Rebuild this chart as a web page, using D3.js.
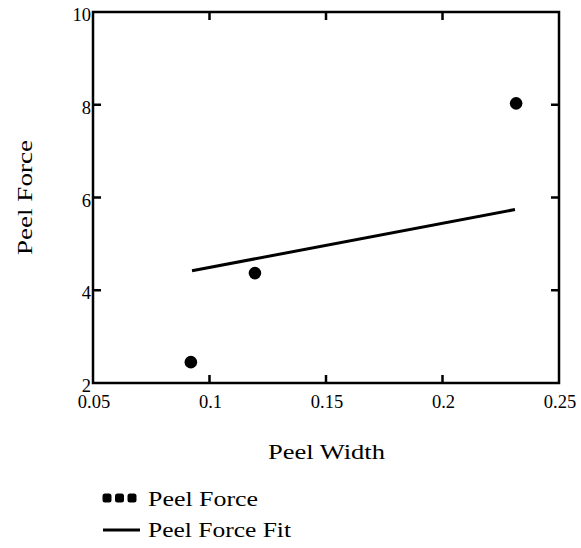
<!DOCTYPE html>
<html>
<head>
<meta charset="utf-8">
<script src="https://cdn.jsdelivr.net/npm/d3@7"></script>
<style>
  body { margin: 0; background: #fff; }
  .tick-label { font-family: "Liberation Serif", "Times New Roman", serif; font-size: 18.5px; fill: #000; }
  .title { font-family: "Liberation Serif", "Times New Roman", serif; font-size: 22px; fill: #000; }
</style>
</head>
<body>
<svg width="581" height="548"></svg>
<script>
// Data
const peelWidth = [0.092, 0.1195, 0.2316];
const peelForce = [2.45, 4.37, 8.03];
const fitWidth = [0.0925, 0.2311];
const fitForce = [4.42, 5.74];

const xTicks = [0.05, 0.1, 0.15, 0.2, 0.25];
const xTickLabels = ["0.05", "0.1", "0.15", "0.2", "0.25"];
const yTicks = [2, 4, 6, 8, 10];
const yTickLabels = ["2", "4", "6", "8", "10"];

const svg = d3.select("svg");
const plotLeft = 93, plotRight = 559, plotTop = 12, plotBottom = 383;

const x = d3.scaleLinear().domain([0.05, 0.25]).range([plotLeft, plotRight]);
const y = d3.scaleLinear().domain([2, 10]).range([plotBottom, plotTop]);

// inner ticks on all four sides
const tickLen = 8;
const g = svg.append("g").attr("stroke", "#000").attr("stroke-width", 2.5);
g.selectAll(".xb").data(xTicks.slice(1, -1)).join("line")
    .attr("x1", d => x(d)).attr("x2", d => x(d))
    .attr("y1", plotBottom).attr("y2", plotBottom - tickLen);
g.selectAll(".xt").data(xTicks.slice(1, -1)).join("line")
    .attr("x1", d => x(d)).attr("x2", d => x(d))
    .attr("y1", plotTop).attr("y2", plotTop + tickLen);
g.selectAll(".yl").data(yTicks.slice(1, -1)).join("line")
    .attr("y1", d => y(d)).attr("y2", d => y(d))
    .attr("x1", plotLeft).attr("x2", plotLeft + tickLen);
g.selectAll(".yr").data(yTicks.slice(1, -1)).join("line")
    .attr("y1", d => y(d)).attr("y2", d => y(d))
    .attr("x1", plotRight).attr("x2", plotRight - tickLen);

svg.append("rect")
    .attr("x", plotLeft).attr("y", plotTop)
    .attr("width", plotRight - plotLeft).attr("height", plotBottom - plotTop)
    .attr("fill", "none").attr("stroke", "#000").attr("stroke-width", 2.5);

// tick labels
svg.selectAll(".xlab").data(xTicks).join("text")
    .attr("class", "tick-label")
    .attr("x", d => x(d) + 1).attr("y", plotBottom + 25)
    .attr("text-anchor", "middle")
    .text((d, i) => xTickLabels[i]);
svg.selectAll(".ylab").data(yTicks).join("text")
    .attr("class", "tick-label")
    .attr("x", plotLeft - 2).attr("y", d => y(d) + 9)
    .attr("text-anchor", "end")
    .text((d, i) => yTickLabels[i]);

// axis titles
svg.append("text").attr("class", "title")
    .attr("x", 268).attr("y", 459)
    .attr("textLength", 117).attr("lengthAdjust", "spacingAndGlyphs")
    .text("Peel Width");
svg.append("text").attr("class", "title")
    .attr("transform", "translate(32,255) rotate(-90)")
    .attr("textLength", 115).attr("lengthAdjust", "spacingAndGlyphs")
    .text("Peel Force");

// fit line
const line = d3.line().x(d => x(d[0])).y(d => y(d[1]));
svg.append("path")
    .datum(d3.zip(fitWidth, fitForce))
    .attr("d", line)
    .attr("fill", "none").attr("stroke", "#000").attr("stroke-width", 3);

// points
svg.selectAll(".pt").data(d3.zip(peelWidth, peelForce)).join("circle")
    .attr("cx", d => x(d[0])).attr("cy", d => y(d[1]))
    .attr("r", 6.3).attr("fill", "#000");

// legend
const legend = svg.append("g");
legend.selectAll("rect").data([107, 119.5, 132]).join("rect")
    .attr("x", d => d - 4.5).attr("y", 493.5)
    .attr("width", 9).attr("height", 9).attr("rx", 2.5)
    .attr("fill", "#000");
legend.append("text").attr("class", "title")
    .attr("x", 148).attr("y", 506)
    .attr("textLength", 110).attr("lengthAdjust", "spacingAndGlyphs")
    .text("Peel Force");
legend.append("line")
    .attr("x1", 103).attr("x2", 140).attr("y1", 530).attr("y2", 530)
    .attr("stroke", "#000").attr("stroke-width", 3);
legend.append("text").attr("class", "title")
    .attr("x", 148).attr("y", 537)
    .attr("textLength", 143).attr("lengthAdjust", "spacingAndGlyphs")
    .text("Peel Force Fit");
</script>
</body>
</html>
